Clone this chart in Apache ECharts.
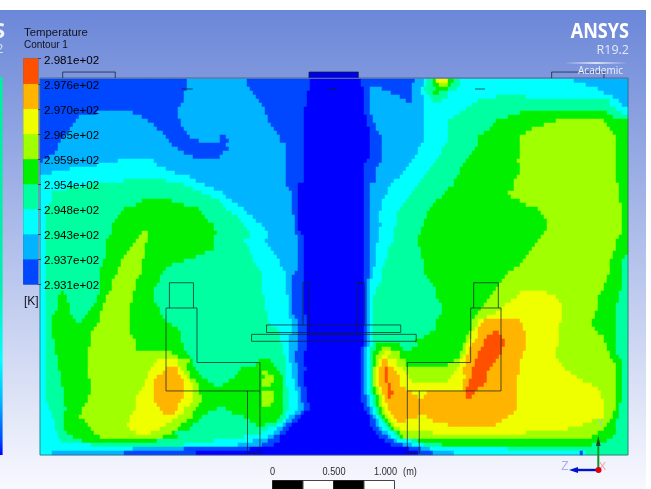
<!DOCTYPE html>
<html><head><meta charset="utf-8">
<style>html,body{margin:0;padding:0;background:#fff}#c{width:651px;height:489px;filter:blur(0.45px)}</style>
<script src="https://cdn.jsdelivr.net/npm/echarts@6/dist/echarts.min.js"></script>
</head><body><div id="c"></div>
<script>
// Colour-band ticks of the legend (K) and their printed labels, bottom to top
const tickKelvin = [293.1,293.7,294.3,294.8,295.4,295.9,296.5,297.0,297.6,298.1];
const tickLabels = ['2.931e+02','2.937e+02','2.943e+02','2.948e+02','2.954e+02','2.959e+02','2.965e+02','2.970e+02','2.976e+02','2.981e+02'];
// Temperature standing for each band; band 0 lies under the lowest tick
const bandKelvin = [292.9,293.4,294.0,294.55,295.1,295.65,296.2,296.75,297.3,297.85];
const bandColors = ['#0000ff','#0048ff','#00b4ff','#00ffff','#00ffa0','#00f000','#a0ff00','#f0ff00','#ffb400','#ff5000'];
// Contour field read row by row from the top: "band:end" runs, end in field columns (0..98)
const fieldRuns = [
"1:24.5 2:34.5 1:45 0:53.5 1:62.5 2:64 3:64.5 4:65.5 5:66 7:68 5:69 4:70 3:89 2:98",
"1:24.5 2:34.5 1:45 0:53.5 1:62 2:64 3:64.5 4:65.5 5:66.5 6:68 5:68.5 4:70 3:91 2:98",
"1:24.5 2:35 1:45 0:54 1:55 2:57 1:62 2:63.5 3:64 4:66 5:68 4:69.5 3:93 2:98",
"1:24 2:35.5 1:44.5 0:54 1:55 2:58.5 1:62 2:63.5 3:64.5 4:65.5 5:66.5 4:68 3:94 2:98",
"1:24 2:36 1:44.5 0:54 1:55 2:60 1:62 2:64 3:65 4:68 3:76 4:81 3:95.5 2:98",
"1:24 2:36.5 1:44.5 0:54 1:55 2:61 1:62 2:64 3:65.5 4:67 3:73 4:95 3:96.5 2:98",
"1:23.5 2:37 1:44.5 0:54 1:55 2:64 3:72 4:95 3:97 2:98",
"1:23 2:37.5 1:44 0:54 1:55 2:64 3:71 4:96 3:98",
"1:9.5 2:15.5 1:23 2:37.5 1:44 0:54 1:55 2:64 3:70 4:80 5:94.5 4:97 3:98",
"1:6.5 2:17 1:23 2:38 1:44 0:54.5 1:55.5 2:64 3:69 4:78 5:95.5 4:98",
"1:6 2:18 1:23.5 2:38 1:44 0:54.5 1:55.5 2:64 3:68 4:76 5:86 6:94 5:98",
"1:5.5 2:19 1:23.5 2:38.5 1:44 0:54.5 1:56 2:64 3:68 4:75.5 5:84 6:94.5 5:98",
"1:5 2:19.5 1:24 2:39 1:44 0:55 1:56 2:64 3:68 4:75 5:82 6:95 5:98",
"1:4.5 2:20.5 1:24.5 2:39.5 1:44 0:55 1:56.5 2:64 3:68 4:74 5:81 6:95.5 5:98",
"1:4 2:21 1:25 2:30 1:31 2:40 1:44 0:55 1:57 2:64 3:68 4:73 5:80 6:96 5:98",
"1:3.5 2:21.5 1:26.5 2:30 1:31.5 2:40 1:44 0:55 1:57 2:64 3:68 4:73 5:80 6:96 5:98",
"1:3 2:22 1:31 2:41 1:44 0:55 1:57 2:63.5 3:67.5 4:73 5:80 6:96 5:98",
"1:3 2:23 1:31.5 2:41 1:44 0:55 1:57 2:63 3:67 4:72.5 5:80 6:96 5:98",
"1:2.5 2:24 1:30.5 2:41 1:44 0:55 1:57 2:63 3:67 4:72 5:80 6:96 5:98",
"1:1.5 2:25.5 1:30 2:41 1:44 0:55 1:57 2:62.5 3:66.5 4:71.5 5:80 6:96 5:98",
"1:0.5 2:13 3:19 2:41 1:44 0:54.5 1:57 2:62 3:66 4:71 5:79.5 6:96 5:98",
"2:9.5 3:19.5 2:41 1:44 0:54 1:56.5 2:61.5 3:65.5 4:70.5 5:80 6:96 5:98",
"2:5 3:21 2:41 1:44 0:54 1:56 2:61 3:65 4:70 5:80 6:96 5:98",
"2:2 3:22.5 2:41 1:44 0:54 1:56 2:60.5 3:64.5 4:70 5:80 6:96 5:98",
"3:25 2:41 1:44 0:54 1:56 2:60 3:64 4:69.5 5:79.5 6:96 5:98",
"3:14 4:21 3:26 2:41 1:44 0:54 1:56 2:59 3:63.5 4:69 5:79 6:96 5:98",
"3:8 4:24 3:27.5 2:41 1:43 0:54 1:55 2:58.5 3:63 4:69 5:79 6:96.5 5:98",
"3:4.5 4:25.5 3:29 2:41.5 1:43 0:54 1:55 2:58 3:62.5 4:68 5:79 6:96.5 5:98",
"3:2 4:27 3:30.5 2:42 1:43 0:54 1:55 2:58 3:62 4:67.5 5:78 6:96.5 5:98",
"3:2 4:28.5 3:31 2:42 1:43 0:54 1:55 2:57.5 3:61.5 4:67 5:78.5 6:96.5 5:98",
"3:2 4:17 5:22 4:30 3:32 2:42 1:43 0:54 1:55 2:57 3:61 4:66 5:80 6:96.5 5:98",
"3:1.5 4:16 5:24 4:30.5 3:33 2:42 1:43 0:54 1:55 2:57 3:60.5 4:65.5 5:81 6:97 5:98",
"3:1 4:14 5:26.5 4:31 3:34 2:42 1:43 0:54 1:55 2:57 3:60 4:65 5:83 6:97 5:98",
"3:1 4:13.5 5:27 4:32 3:34.5 2:42 1:43 0:54 1:55 2:56.5 3:59.5 4:64.5 5:83.5 6:97 5:98",
"3:1 4:13 5:27.5 4:33 3:35.5 2:42.5 1:43 0:54 1:55 2:56.5 3:59.5 4:64.5 5:84 6:97 5:98",
"3:1 4:12.5 5:28 4:33.5 3:36 2:42.5 1:43 0:54 1:55 2:56.5 3:59.5 4:64 5:84.5 6:97 5:98",
"3:1 4:12 5:29 4:34 3:37 2:42.5 1:43 0:54 1:55 2:57 3:59.5 4:64 5:84.5 6:97 5:98",
"3:1 4:12 5:29 4:34.5 3:37.5 2:42.5 1:43 0:54 1:55 2:56.5 3:59 4:63.5 5:84.5 6:97 5:98",
"3:1 4:12 5:17 6:18 5:29.5 4:35 3:38 2:42.5 1:43.5 0:54 1:55 2:56.5 3:59 4:63.5 5:84 6:97 5:98",
"3:1 4:11.5 5:16.5 6:18 5:29 4:35 3:38 2:43 1:44 0:54 1:55 2:56.5 3:59 4:63 5:83.5 6:96.5 5:98",
"3:1 4:11 5:16 6:18 5:29 4:34 3:37.5 2:43 1:44 0:54 1:55 2:56.5 3:59 4:63 5:83 6:96 5:98",
"3:1 4:11 5:15.5 6:17.5 5:29 4:34.5 3:38 2:43 1:44 0:54 1:55 2:56 3:58.5 4:63 5:82.5 6:96 5:98",
"3:1 4:11 5:15 6:17.5 5:29 4:35 3:38.5 2:43 1:44 0:54 1:55 2:56 3:58 4:63.5 5:82 6:96 5:98",
"3:1 4:11 5:14.5 6:17.5 5:27.5 4:35 3:39 2:43 1:44 0:54 1:55 2:56 3:58 4:63.5 5:81.5 6:95.5 5:98",
"3:1 4:11 5:14 6:17.5 5:26 4:35.5 3:39.5 2:43 1:44 0:54 1:55 2:56 3:58 4:63.5 5:81 6:95.5 5:97.5 4:98",
"3:1 4:10.5 5:13.5 6:17 5:24 4:35.5 3:40 2:43 1:44 0:54 1:55 2:56 3:57.5 4:64 5:80.5 6:95 5:97 4:98",
"3:1 4:10.5 5:13.5 6:17 5:22 4:36 3:40 2:43 1:44 0:54 1:55 2:56 3:57.5 4:64 5:80 6:95 5:97 4:98",
"3:1 4:10 5:13 6:17 5:21 4:36.5 3:40.5 2:43 1:44 0:54 1:55 2:55.5 3:57 4:64 5:79 6:95 5:97 4:98",
"3:1 4:10 5:13 6:17 5:20.5 4:37 3:41 2:42.5 1:44 0:54 1:55 2:55.5 3:57 4:64 5:78 6:95 5:97 4:98",
"3:1 4:10 5:12.5 6:16.5 5:20 4:37 3:41 2:42 1:44 0:54 1:55 2:55.5 3:57 4:64.5 5:77.5 6:94.5 5:97 4:98",
"3:1 4:10 5:12 6:16 5:20 4:37 3:41 2:42 1:44 0:54 1:54.5 2:55 3:57 4:65 5:77 6:94.5 5:97 4:98",
"3:1 4:10 5:12 6:16 5:19.5 4:37 3:41 2:42 1:44 0:54 1:54.5 2:55 3:56.5 4:65.5 5:76.5 6:94 5:97 4:98",
"3:1 4:10 5:12 6:16 5:19 4:37 3:41 2:42 1:44 0:54 1:54.5 2:55 3:56 4:66 5:76 6:94 5:97 4:98",
"3:1 4:3.5 5:4 4:10 5:11.5 6:15.5 5:19 4:37 3:41 2:42 1:44 0:54 1:54.5 2:55 3:56 4:66 5:75.5 6:80 7:84.5 6:93.5 5:96.5 4:98",
"3:1 4:3 5:4.5 4:9.5 5:11 6:15.5 5:19 4:37.5 3:41.5 2:42 1:44 0:54 1:54.5 2:55 3:55.5 4:66 5:75 6:79.5 7:86 6:93 5:96.5 4:98",
"3:1 4:3 5:4.5 4:9.5 5:11 6:15.5 5:19 4:37.5 3:41.5 2:42 1:44 0:54 1:54.5 2:55 3:55.5 4:66.5 5:74.5 6:78.5 7:86.5 6:93 5:96.5 4:98",
"3:1 4:3 5:5 4:9 5:10.5 6:15 5:19.5 4:37.5 3:41.5 2:42 1:44 0:54 1:54.5 2:55 3:55.5 4:67 5:74 6:77.5 7:87 6:93 5:96 4:98",
"3:1 4:3 5:5 4:8.5 5:10.5 6:15 5:20 4:37.5 3:41.5 2:42 1:44 0:54 1:54.5 2:55 3:55.5 4:67 5:73.5 6:77 7:87 6:93 5:96 4:98",
"3:1 4:2.5 5:5 4:8 5:10 6:15 5:20 4:38 3:41.5 2:42 1:44 0:54 1:54.5 2:55 3:55.5 4:67 5:73 6:76 7:87 6:92.5 5:96 4:98",
"3:1 4:2 5:5.5 4:7.5 5:10 6:15 5:20.5 4:38 3:41.5 2:42.5 1:44.5 0:54 1:54.5 2:55 3:55.5 4:66.5 5:72.5 6:74.5 7:87 6:92.5 5:96 4:98",
"3:1 4:2 5:6 4:7 5:10 6:15 5:21 4:38 3:42 2:43 1:44.5 0:54 1:54.5 2:55 3:55.5 4:66 5:72 6:73 7:74 8:80 7:87 6:92 5:96 4:98",
"3:1 4:2 5:9.5 6:15 5:22 4:38.5 3:42 2:43 1:44.5 0:54 1:54.5 2:55 3:55.5 4:66 5:72 6:73 7:73.5 8:80.5 7:86.5 6:92 5:96 4:98",
"3:1 4:2 5:9 6:15 5:23 4:39.5 3:42 2:43 1:44.5 0:54 1:54.5 2:55 3:55.5 4:66 5:72 6:72.5 7:73 8:80.5 7:86.5 6:92.5 5:96 4:98",
"3:1 4:2 5:8.5 6:15 5:23.5 4:40 3:42 2:43 1:44.5 0:54 1:54.5 2:55 3:55.5 4:65 5:71.5 6:72 7:73 8:75.5 9:76.5 8:81 7:86.5 6:93 5:96 4:98",
"3:1 4:2 5:8.5 6:15.5 5:23.5 4:40 3:41.5 2:43 1:44.5 0:54 1:54.5 2:55 3:55.5 4:64 5:71 6:72 7:73 8:74.5 9:77 8:81 7:86.5 6:94 5:96 4:98",
"3:1 4:2.5 5:8.5 6:16 5:23.5 4:40 3:41.5 2:43 1:44.5 0:54 1:54.5 2:55 3:55.5 4:62.5 5:71 6:71.5 7:72.5 8:74 9:77.5 8:81 7:86.5 6:94 5:96 4:98",
"3:1 4:2.5 5:8.5 6:16 5:24 4:40.5 3:41.5 2:43 1:44.5 0:54 1:54.5 2:55 3:55.5 4:56 5:60 4:63 5:70.5 6:71 7:72 8:74 9:77.5 8:81 7:86.5 6:94.5 5:96 4:98",
"3:1 4:2.5 5:8 6:16 5:24 4:40.5 3:41.5 2:43 1:44.5 0:53.5 1:54 2:54.5 3:55 4:56 5:57 6:58.5 5:60.5 4:62 5:70.5 6:71 7:71.5 8:73.5 9:77 8:81 7:86 6:94.5 5:96 4:98",
"3:1 4:2.5 5:8 6:22 5:24.5 4:40.5 3:41.5 2:42.5 1:44 0:53.5 1:54 2:54.5 3:55 4:55.5 5:56.5 6:57.5 7:58.5 6:60 5:70 6:71 7:71.5 8:73 9:77 8:80.5 7:86 6:95 5:96 4:98",
"3:1 4:3 5:8 6:23 5:25 4:41 3:41.5 2:42.5 1:44 0:53.5 1:54 2:54.5 3:55 4:55.5 5:56 6:57 7:58 6:60 5:70 6:70.5 7:71 8:73 9:76.5 8:80.5 7:86 6:95 5:96.5 4:98",
"3:1 4:3 5:8 6:19.5 7:23 6:25 5:25.5 4:36.5 5:38.5 4:41 3:41.5 2:42.5 1:44 0:53.5 1:54 2:54.5 3:55 4:55.5 5:56 6:56.5 7:57 8:58 7:59.5 6:61 5:69 6:70 7:71 8:72.5 9:76 8:80 7:86.5 6:95.5 5:97 4:98",
"3:1 4:3 5:8 6:19 7:23 6:24.5 5:25.5 4:36 5:39 4:41 3:42 2:43 1:44 0:53.5 1:54 2:54.5 3:55 4:55.5 5:56 6:56.5 7:57 8:58 7:59.5 6:61 5:68 6:70 7:71 8:72.5 9:75.5 8:80 7:87 6:96 5:97 4:98",
"3:1 4:3 5:8 6:18.5 7:21 8:23 7:23.5 6:24.5 5:26 4:33.5 5:39.5 4:41 3:42 2:43 1:44.5 0:53.5 1:54 2:54.5 3:55 4:55.5 6:56 7:56.5 8:57.5 9:58 8:59 7:60.5 6:69.5 7:70.5 8:72 9:75 8:80 7:87.5 6:96 5:97 4:98",
"3:1 4:3.5 5:8 6:18 7:20.5 8:23 7:24 6:25 5:26.5 4:33 5:37 6:38 5:40 4:41 3:42 2:43 1:44 0:53.5 1:54 2:54.5 3:55 4:55.5 6:56 7:56.5 8:57.5 9:58 8:59.5 7:61 6:69 7:70.5 8:72 9:74.5 8:80 7:88.5 6:96 5:97 4:98",
"3:1 4:3.5 5:8 6:18 7:19.5 8:23.5 7:24.5 6:25 5:27 4:32.5 5:37.5 6:39 5:40.5 4:41 3:42 2:43 1:44 0:53.5 1:54 2:54.5 3:55 4:55.5 6:56 7:56.5 8:57.5 9:58 8:60 7:61.5 6:68.5 7:71 8:72 9:74.5 8:79.5 7:89.5 6:96 5:97 4:98",
"3:1 4:3.5 5:8.5 6:17.5 7:19 8:24 7:25 6:26 5:28 4:31.5 5:37 6:39 5:40.5 4:41 3:42.5 2:43 1:44 0:53.5 1:54 2:54.5 3:55 4:55.5 6:56 7:56.5 8:57.5 9:58 8:60 7:62 6:68 7:70.5 8:71.5 9:74.5 8:79.5 7:90.5 6:96 5:97 4:98",
"3:1 4:3.5 5:8.5 6:17.5 7:19 8:24 7:25.5 6:26.5 5:29 4:30.5 5:37 6:38.5 5:40.5 4:41 3:42.5 2:43 1:44 0:53.5 1:54 2:54.5 3:55 4:55.5 6:56 7:56.5 8:58 9:58.5 8:60 7:70.5 8:71.5 9:74 8:79.5 7:92 6:96 5:97 4:98",
"3:1 4:4 5:8.5 6:17 7:19 8:24 7:25.5 6:26.5 5:40.5 4:41.5 3:42.5 2:43.5 1:44.5 0:53.5 1:54 2:54.5 3:55 4:55.5 5:56 6:56.5 7:57 8:58 9:58.5 8:61 7:70.5 8:71 9:73 8:79.5 7:93 6:96 5:97 4:98",
"3:1 4:4 5:8.5 6:16.5 7:19 8:24 7:25.5 6:26.5 5:37 6:39 5:40.5 4:41.5 3:43 2:43.5 1:44.5 0:53.5 1:54 2:54.5 3:55 4:55.5 5:56 6:56.5 7:57 8:58 9:59 8:62 7:64.5 8:71 9:72.5 8:79.5 7:93.5 6:96 5:97 4:98",
"3:1 4:4 5:8 6:16 7:19 8:24 7:25.5 6:27 5:37 6:39 5:40.5 4:41.5 3:43 2:43.5 1:44.5 0:53.5 1:54.5 2:55 3:55.5 4:56 5:56.5 6:57 7:57.5 8:58 9:58.5 8:63 7:64 8:71 9:72 8:79.5 7:93.5 6:96 5:97 4:98",
"3:1 4:4 5:8 6:16 7:19 8:23.5 7:25.5 6:27 5:37 6:39 5:40.5 4:41.5 3:43 2:43.5 1:44.5 0:53.5 1:54.5 2:55 3:55.5 4:56 5:56.5 6:57 7:57.5 8:79.5 7:94 6:96 5:97 4:98",
"3:1.5 4:4 5:7.5 6:16 7:19.5 8:23 7:25 6:26.5 5:37 6:38.5 5:40.5 4:41.5 3:43 2:44 1:45 0:54 1:54.5 2:55 3:55.5 4:56 5:56.5 6:57 7:58 8:79.5 7:94 6:96 5:96.5 4:98",
"3:1.5 4:4.5 5:7 6:16 7:20 8:23 7:24 6:26 5:29.5 4:31 5:40.5 4:41.5 3:43 2:44 1:45 0:54 1:55 2:55.5 3:56 4:56.5 5:57 6:57.5 7:58 8:79.5 7:94 6:96 5:96.5 4:98",
"3:2 4:4 5:7 6:15.5 7:20.5 8:22.5 7:24 6:25.5 5:28 4:32 5:40.5 4:41 3:42.5 2:43.5 1:44 0:54.5 1:55 2:55.5 3:56 4:56.5 5:57 6:57.5 7:58.5 8:79 7:94 6:95.5 5:96.5 4:98",
"3:2 4:4 5:6.5 6:15 7:23 6:25.5 5:27 4:34 5:40 4:41 3:41.5 2:42.5 1:43.5 0:55 1:55.5 2:56 3:56.5 4:57 5:57.5 6:58 7:59 8:63 7:64.5 8:78 7:94 6:95.5 5:96.5 4:98",
"3:2.5 4:4 5:7.5 6:15 7:22 6:24.5 5:26.5 4:35 5:39.5 4:40.5 3:41 2:42 1:43 0:55 1:56 2:56.5 3:57 4:57.5 5:58 6:58.5 7:59.5 8:61 7:65.5 8:77 7:92 6:95 5:96 4:98",
"3:2.5 4:4 5:8 6:14.5 7:21 6:23.5 5:25.5 4:36 5:37.5 4:39.5 3:40.5 2:41 1:42 0:55 1:56 2:56.5 3:57.5 4:58 5:58.5 6:59 7:68 8:76 7:90.5 6:94.5 5:96 4:98",
"3:2.5 4:4 5:8.5 6:15 7:20 6:23 5:25 4:38 3:39.5 2:40.5 1:41.5 0:55.5 1:56.5 2:57 3:58 4:58.5 5:59 6:60 7:88 6:94 5:96 4:98",
"3:3 4:4.5 5:9 6:16 7:18.5 6:22 5:22.5 4:37 3:39 2:40 1:41 0:56 1:57 2:58 3:59 4:59.5 5:60 6:65.5 7:81 6:93 5:96 4:98",
"3:3 4:5.5 5:10 6:20.5 5:23 4:34 3:38 2:39 1:40 0:56.5 1:58 2:58.5 3:59.5 4:60 5:60.5 6:92 5:95.5 4:98",
"3:3.5 4:7 5:19.5 4:29 3:35.5 2:38 1:40 0:57.5 1:59 2:59.5 3:62 4:63 5:94.5 4:98",
"3:8.5 4:24 3:33 2:37 1:39 0:58.5 1:60.5 2:62 3:64 4:67 5:92 4:98",
"3:15.5 2:24 1:35 0:61.5 1:63.5 2:65 3:78 4:98",
"3:2 2:14 1:26 0:63 1:65.5 2:69 3:90 1:90.5 3:91 4:98"
];
// Geometry outlines in metres from the field's lower-left corner
const fieldWidthM = 4.82, fieldHeightM = 3.082;
const geometryOutlines = [
 [[1.061,1.205],[1.061,1.412],[1.258,1.412],[1.258,1.205]],
 [[1.033,0.525],[1.033,1.205],[1.287,1.205],[1.287,0.758],[1.803,0.758],[1.803,0.525],[1.033,0.525]],
 [[1.701,0.525],[1.701,0.016],[1.803,0.016],[1.803,0.525]],
 [[3.555,1.205],[3.555,1.412],[3.757,1.412],[3.757,1.205]],
 [[3.530,1.205],[3.779,1.205],[3.779,0.525],[3.011,0.525],[3.011,0.758],[3.530,0.758],[3.530,1.205]],
 [[3.011,0.525],[3.011,0.016],[3.109,0.016],[3.109,0.525]],
 [[1.857,1.066],[2.957,1.066],[2.957,1.004],[1.857,1.004],[1.857,1.066]],
 [[1.734,0.989],[3.084,0.989],[3.084,0.932],[1.734,0.932],[1.734,0.989]],
 [[2.156,1.066],[2.156,1.412],[2.205,1.412],[2.205,1.004]],
 [[2.658,1.066],[2.658,1.412],[2.604,1.412],[2.604,1.004]],
 [[0.186,3.09],[0.186,3.139],[0.617,3.139],[0.617,3.09]],
 [[4.194,3.09],[4.194,3.139],[4.623,3.139],[4.623,3.09]],
 [[2.205,3.09],[2.205,3.139],[2.609,3.139],[2.609,3.09]],
 [[1.161,3.0],[1.254,3.0]],[[2.361,3.0],[2.443,3.0]],[[3.566,3.0],[3.648,3.0]]
];
const fieldFrame = [[0,0],[0,3.09],[4.82,3.09],[4.82,0],[0,0]];
const inletBox = [[2.205,3.09,2.609,3.139]];

const subCols = 196;
const heatData = [];
fieldRuns.forEach((row, r) => {
  let c = 0;
  row.split(' ').forEach(run => {
    const [band, end] = run.split(':').map(Number);
    for (; c < Math.round(end * 2) && c < subCols; c++) heatData.push([c, r, bandKelvin[band]]);
  });
});
const colCats = Array.from({length: subCols}, (_, i) => i);
const rowCats = fieldRuns.map((_, i) => i);
const legendCats = bandKelvin.slice(1).map(String);
const legendData = bandKelvin.slice(1).map((k, i) => [0, i, k]);
const pieces = bandColors.map((color, i) => i === 0 ? {lt: tickKelvin[0], color}
  : {gte: tickKelvin[i - 1], lt: tickKelvin[i], color});

const FONT = '"Liberation Sans", Arial, sans-serif';
const txt = (x, y, text, font, fill, extra, scaleX) => ({type:'text', z:100, x, y, scaleX:scaleX||1, style:Object.assign({text, font, fill, textVerticalAlign:'middle'}, extra||{})});
const seg = (x1,y1,x2,y2,stroke,lineWidth) => ({type:'line', z:100, shape:{x1,y1,x2,y2}, style:{stroke,lineWidth}});
const box = (x,y,width,height,fill,stroke) => ({type:'rect', z:100, shape:{x,y,width,height}, style:{fill,stroke:stroke||null,lineWidth:1}});

const chart = echarts.init(document.getElementById('c'), null, {renderer:'canvas'});
chart.setOption({
  animation:false,
  backgroundColor:{type:'linear',x:0,y:0,x2:0,y2:1,colorStops:[
    {offset:0,color:'#ffffff'},{offset:0.0204,color:'#ffffff'},{offset:0.0205,color:'#6b87d8'},{offset:1,color:'#f8f9fe'}]},
  grid:[
    {left:40,top:79,width:588,height:376,containLabel:false},
    {left:23.5,top:58.7,width:14.5,height:225.5,containLabel:false,show:true,borderColor:'#5a6478',borderWidth:1},
    {left:23.5,top:60.5,width:14.5,height:225.3,containLabel:false}
  ],
  xAxis:[
    {type:'category',gridIndex:0,data:colCats,show:false},
    {type:'value',gridIndex:0,min:0,max:fieldWidthM,show:false},
    {type:'category',gridIndex:1,data:[''],show:false},
    {type:'value',gridIndex:2,min:0,max:1,show:false}
  ],
  yAxis:[
    {type:'category',gridIndex:0,data:rowCats,inverse:true,show:false},
    {type:'value',gridIndex:0,min:0,max:fieldHeightM,show:false},
    {type:'category',gridIndex:1,data:legendCats,show:false},
    {type:'value',gridIndex:1,min:0,max:9,interval:1,position:'right',z:20,splitLine:{show:false},
     axisLine:{show:false},axisTick:{show:true,length:3,lineStyle:{color:'#444'}},axisLabel:{show:false}},
    {type:'value',gridIndex:2,min:0,max:9,interval:1,position:'right',z:20,splitLine:{show:false},
     axisLine:{show:false},axisTick:{show:false},
     axisLabel:{margin:6,color:'#000',fontFamily:FONT,fontSize:11.6,formatter:(v)=>tickLabels[v]}}
  ],
  visualMap:{show:false,type:'piecewise',dimension:2,seriesIndex:[0,1],pieces},
  series:[
    {type:'heatmap',xAxisIndex:0,yAxisIndex:0,data:heatData,progressive:0,itemStyle:{borderWidth:0},emphasis:{disabled:true}},
    {type:'heatmap',xAxisIndex:2,yAxisIndex:2,data:legendData,progressive:0,emphasis:{disabled:true}},
    {type:'custom',xAxisIndex:1,yAxisIndex:1,z:4,clip:false,data:inletBox,
     renderItem:(p,api)=>{
       const a=api.coord([api.value(0),api.value(3)]), b=api.coord([api.value(2),api.value(1)]);
       return {type:'rect',shape:{x:a[0],y:a[1],width:b[0]-a[0],height:b[1]-a[1]},style:{fill:'#0000e6'}};
     }},
    {type:'line',xAxisIndex:1,yAxisIndex:1,z:5,clip:false,symbol:'none',silent:true,data:fieldFrame,
     lineStyle:{color:'rgba(70,85,110,0.75)',width:1}},
    ...geometryOutlines.map(o=>({type:'line',xAxisIndex:1,yAxisIndex:1,z:6,clip:false,symbol:'none',silent:true,data:o,
     lineStyle:{color:'rgba(15,30,45,0.72)',width:1}}))
  ],
  graphic:[
    box(646,0,5,489,'#ffffff'),
    {type:'rect',z:100,shape:{x:0,y:77,width:2.6,height:378},style:{fill:{type:'linear',x:0,y:0,x2:0,y2:1,colorStops:[
      {offset:0,color:'#00f09c'},{offset:0.55,color:'#00f0b0'},{offset:0.75,color:'#00ffff'},{offset:0.86,color:'#00b4ff'},{offset:0.96,color:'#0048ff'},{offset:1,color:'#0000ff'}]}}},
    txt(-7,32,'S','bold 22px "Open Sans", sans-serif','rgba(255,255,255,0.9)'),
    txt(-4,49,'2','13px "Open Sans", sans-serif','rgba(225,232,250,0.9)'),
    txt(24,33,'Temperature','11.4px '+FONT,'#10131c'),
    txt(24,45,'Contour 1','10px '+FONT,'#10131c'),
    txt(24,302,'[K]','12px '+FONT,'#10131c'),
    txt(629,32,'ANSYS','bold 22px "Open Sans", sans-serif','#ffffff',{textAlign:'right'},0.82),
    txt(629,50,'R19.2','12.5px "Open Sans", sans-serif','#e4e9f8',{textAlign:'right'}),
    {type:'line',z:100,shape:{x1:566,y1:63,x2:626,y2:63},style:{lineWidth:1.4,stroke:{type:'linear',x:0,y:0,x2:1,y2:0,colorStops:[{offset:0,color:'rgba(255,255,255,0)'},{offset:0.5,color:'rgba(255,255,255,0.95)'},{offset:1,color:'rgba(255,255,255,0)'}]}}},
    txt(623,71,'Academic','10px "Open Sans", sans-serif','#eef2ff',{textAlign:'right'}),
    txt(272.5,472.5,'0','10.8px '+FONT,'#2b2b2b',{textAlign:'center'},0.85),
    txt(334,472.5,'0.500','10.8px '+FONT,'#2b2b2b',{textAlign:'center'},0.85),
    txt(385.5,472.5,'1.000','10.8px '+FONT,'#2b2b2b',{textAlign:'center'},0.85),
    txt(410,472.5,'(m)','10.8px '+FONT,'#2b2b2b',{textAlign:'center'},0.85),
    box(272.5,480.5,30.5,9,'#000000','#222'),
    box(303,480.5,30.5,9,'#ffffff','#444'),
    box(333.5,480.5,30.5,9,'#000000','#222'),
    box(364,480.5,30.5,9,'#ffffff','#444'),
    seg(598.3,470,598.3,443,'#009a20',2),
    {type:'polygon',z:100,shape:{points:[[598.3,436],[596,446],[600.6,446]]},style:{fill:'#1c4a20'}},
    seg(598.3,470,576,470,'#0010d0',2.4),
    {type:'polygon',z:100,shape:{points:[[569,470],[578,467],[578,473]]},style:{fill:'#0010d0'}},
    {type:'circle',z:101,shape:{cx:598.5,cy:470,r:3},style:{fill:'#e00010'}},
    txt(601,423.5,'Y','11px '+FONT,'#9ed89e',{textAlign:'center'}),
    txt(565,466.5,'Z','12px '+FONT,'#a8aef0',{textAlign:'center'}),
    txt(602.5,466.5,'X','11px '+FONT,'#f0a0a8',{textAlign:'center'})
  ]
});
</script></body></html>
